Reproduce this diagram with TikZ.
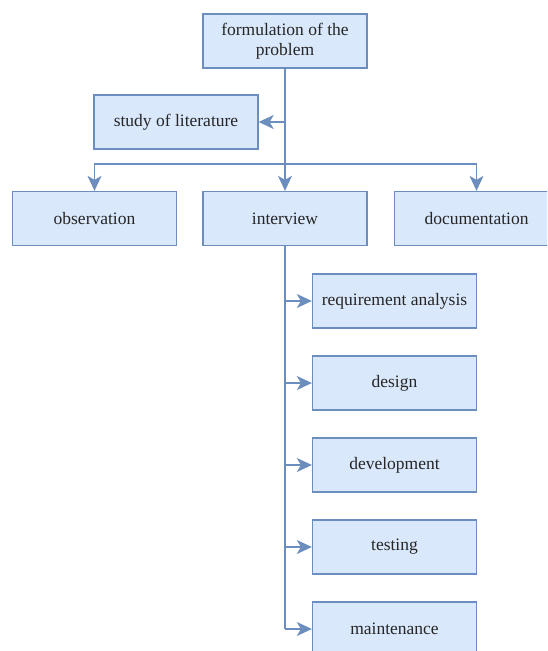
\documentclass[tikz,border=0pt]{standalone}
\usepackage{fontspec}
\setmainfont{Liberation Serif}
\usetikzlibrary{arrows.meta}
\definecolor{boxfill}{HTML}{DAE8FC}
\definecolor{boxline}{HTML}{6C8EBF}
\begin{document}
\begin{tikzpicture}[x=1pt,y=-1pt,
  box/.style={draw=boxline, fill=boxfill, line width=1.3pt, minimum width=164pt, minimum height=54pt,
    inner sep=0pt, align=center, font=\fontsize{17.5}{20}\selectfont, text=black!85},
  conn/.style={draw=boxline, line width=1.3pt, -{Stealth[length=15pt,width=14pt,inset=4pt]}},
  plain/.style={draw=boxline, line width=1.3pt}]
\useasboundingbox (0,0) rectangle (547,651);
\clip (0,0) rectangle (547,651);
\node[box] (form) at (285,41) {formulation of the\\problem};
\node[box] (study) at (176,122) {study of literature};
\node[box] (obs) at (94.5,218.5) {observation};
\node[box] (inter) at (285,218.5) {interview};
\node[box] (doc) at (476.5,218.5) {documentation};
\node[box] (req) at (394.5,301) {requirement analysis};
\node[box] (des) at (394.5,383) {design};
\node[box] (dev) at (394.5,465) {development};
\node[box] (test) at (394.5,547) {testing};
\node[box] (maint) at (394.5,629) {maintenance};
\coordinate (br) at (285,164);
\draw[conn] (form.south) -- (inter.north);
\draw[conn] (form.south |- study.east) -- (study.east);
\draw[conn] (br) -| (obs.north);
\draw[conn] (br) -| (doc.north);
\draw[plain] (inter.south) -- (inter.south |- maint.west);
\draw[conn] (inter.south |- req.west) -- (req.west);
\draw[conn] (inter.south |- des.west) -- (des.west);
\draw[conn] (inter.south |- dev.west) -- (dev.west);
\draw[conn] (inter.south |- test.west) -- (test.west);
\draw[conn] (inter.south |- maint.west) -- (maint.west);
\end{tikzpicture}
\end{document}
